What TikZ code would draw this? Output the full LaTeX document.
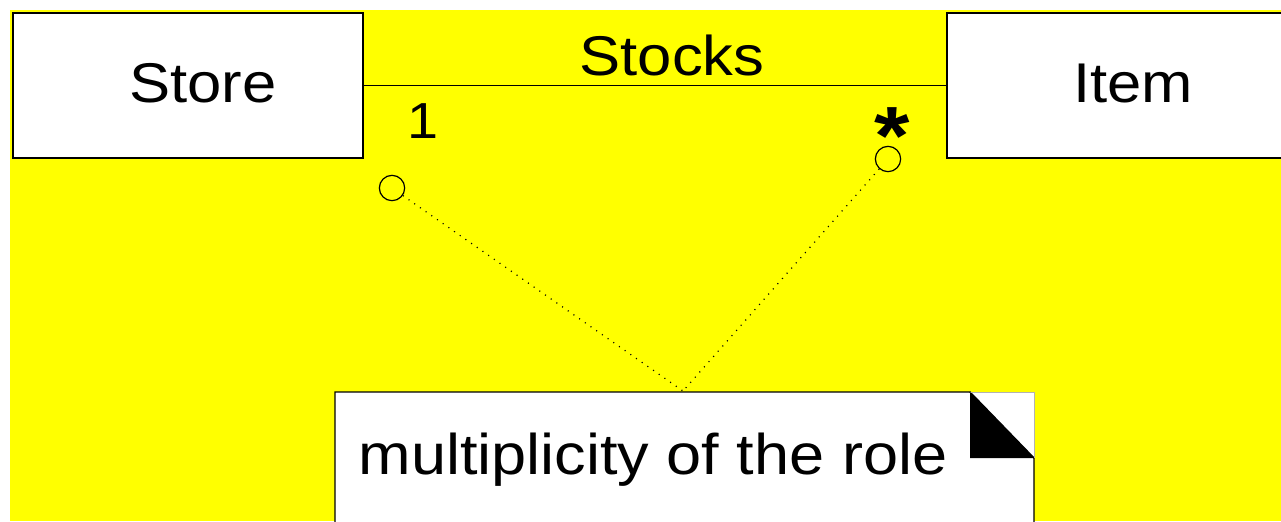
\documentclass[tikz,border=0pt]{standalone}
\usepackage{fontspec}
\setmainfont[FakeStretch=1.1]{Liberation Sans}
\definecolor{bgyellow}{RGB}{255,255,0}
\begin{document}
\begin{tikzpicture}[x=0.75pt,y=-0.75pt,
  classbox/.style={draw=black, fill=white, line width=1.1pt, rectangle, inner sep=0pt, minimum height=108.75pt},
  lbl/.style={font=\fontsize{42}{48}\selectfont, inner sep=0pt, anchor=base},
  role/.style={draw=black, line width=0.9pt, circle, inner sep=0pt, minimum size=19pt},
  dotline/.style={line width=0.9pt, dash pattern=on 0.8pt off 4.4pt}]
\useasboundingbox (0,0) rectangle (1281,521);
\clip (0,0) rectangle (1281,521);
\fill[bgyellow] (10,10) rectangle (1281,521);
% class boxes
\node[classbox, minimum width=262.5pt] (store) at (188,85.5) {};
\node[classbox, minimum width=257.25pt] (item) at (1118.5,85.5) {};
\node[lbl] (storetxt) at (203,102) {Store};
\node[lbl] (itemtxt) at (1133,102) {Item};
% association
\draw[line width=1pt] (store.east) -- (item.west);
\node[lbl] (stocks) at (672,75) {Stocks};
\node[lbl, font=\fontsize{38}{42}\selectfont] (one) at (423,138) {1};
\node[inner sep=0pt, anchor=base, font=\fontsize{62}{70}\selectfont\bfseries] (star) at (892,164) {*};
% role circles
\node[role] (c1) at (392,188) {};
\node[role] (c2) at (888,159) {};
% note
\fill[white] (335,392) rectangle (1034,530);
\draw[line width=1.1pt] (335,530) -- (335,392) -- (970,392) -- (1034,458) -- (1034,530);
\draw[gray!60, line width=0.5pt] (970,392) -- (1034,392) -- (1034,458);
\fill[black] (970,392) -- (1034,458) -- (970,458) -- cycle;
\node[lbl, font=\fontsize{43}{48}\selectfont] (notetxt) at (653,474) {multiplicity of the role};
\coordinate (apex) at (683,391);
\draw[dotline] (c1) -- (apex);
\draw[dotline] (c2) -- (apex);
\end{tikzpicture}
\end{document}
